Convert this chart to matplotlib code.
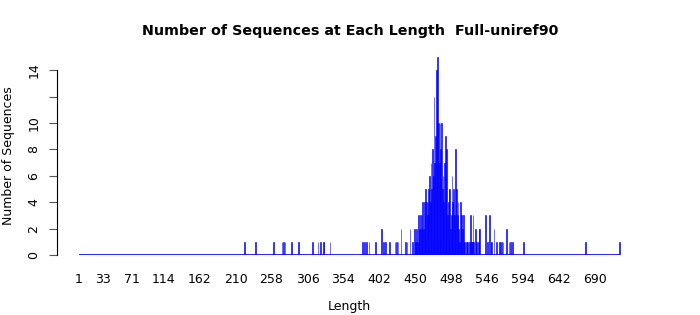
import matplotlib
matplotlib.use("Agg")
import matplotlib.pyplot as plt
import numpy as np

# sequence lengths that occur, and how many sequences have each length
lengths = [222, 237, 261, 272, 274, 276, 285, 294, 313, 320, 323, 327, 328, 336,
           379, 382, 385, 388, 397, 405, 407, 410, 416, 423, 425, 427, 431, 437,
           439, 443, 446,
           449, 450, 451, 452, 453, 454, 455, 456, 457, 458, 459, 460, 461, 462,
           463, 464, 465, 466, 467, 468, 469, 470, 471, 472, 473, 474, 475, 476,
           477, 478, 479, 480, 481, 482, 483, 484, 485, 486, 487, 488, 489, 490,
           491, 492, 493, 494, 495, 496, 497, 498, 499, 500, 501, 502, 503, 504,
           505, 506, 507, 508, 509, 510, 511, 512, 513, 514, 515, 516, 518, 519,
           520, 522, 523, 524, 525, 526, 527, 528, 530, 531, 532, 534, 535, 536,
           544, 546, 549, 551, 552, 555, 558, 562, 563, 565, 567, 572, 575, 577,
           580, 594, 677, 723]
counts = [1, 1, 1, 1, 1, 1, 1, 1, 1, 1, 1, 1, 1, 1,
          1, 1, 1, 1, 1, 2, 1, 1, 1, 1, 1, 1, 2, 1,
          1, 2, 1,
          2, 1, 1, 2, 1, 3, 1, 2, 3, 2, 3, 4, 2, 4,
          3, 5, 4, 3, 4, 5, 6, 4, 7, 5, 8, 6, 12, 7,
          9, 14, 11, 15, 10, 7, 10, 8, 10, 5, 6, 4, 7, 9,
          6, 8, 3, 4, 5, 5, 2, 3, 6, 4, 5, 3, 2, 8,
          5, 3, 4, 2, 1, 4, 2, 3, 2, 3, 1, 1, 1, 1,
          1, 1, 1, 3, 1, 1, 3, 1, 2, 1, 1, 1, 2, 2,
          3, 1, 3, 1, 1, 2, 1, 1, 1, 1, 1, 2, 1, 1,
          1, 1, 1, 1]

xtick_vals = [1, 33, 71, 114, 162, 210, 258, 306, 354, 402, 450, 498, 546, 594, 642, 690]
ytick_vals = [0, 2, 4, 6, 8, 10, 12, 14]
ytick_text = ['0', '2', '4', '6', '8', '10', '', '14']

# every length from 1 to the longest, zero where nothing was seen
all_len = np.arange(1, max(lengths) + 1)
all_cnt = np.zeros(len(all_len))
all_cnt[np.array(lengths) - 1] = counts

fig = plt.figure(figsize=(7, 3.15), dpi=100)
ax = fig.add_axes([57/700, 60/315, 585/700, 208/315])

ax.bar(all_len, all_cnt, width=1, color='blue', edgecolor='blue', linewidth=0.4)
# zero-height bars still show as a thin line along the bottom
ax.hlines(0, all_len[0] - 0.5, all_len[-1] + 0.5, color='blue', linewidth=1.2)

ax.set_xlim(-28.4, 752.6)
ax.set_ylim(0, 15.75)

ax.set_xticks(xtick_vals)
ax.set_xticklabels([str(v) for v in xtick_vals], fontsize=9)
ax.tick_params(axis='x', length=0, pad=13)

ax.set_yticks(ytick_vals)
ax.set_yticklabels(ytick_text, fontsize=9, rotation=90, va='center')
ax.tick_params(axis='y', length=6, color='#555555', pad=6)

for s in ['top', 'right', 'bottom']:
    ax.spines[s].set_visible(False)
ax.spines['left'].set_bounds(0, 14)

ax.set_xlabel('Length', fontsize=9, labelpad=10)
ax.set_ylabel('Number of Sequences', fontsize=9)
ax.yaxis.set_label_coords(-0.072, 0.476)
fig.suptitle('Number of Sequences at Each Length  Full-uniref90', fontsize=10.25,
             fontweight='bold', x=0.5, y=0.925)

fig.savefig('out.png', dpi=100)
